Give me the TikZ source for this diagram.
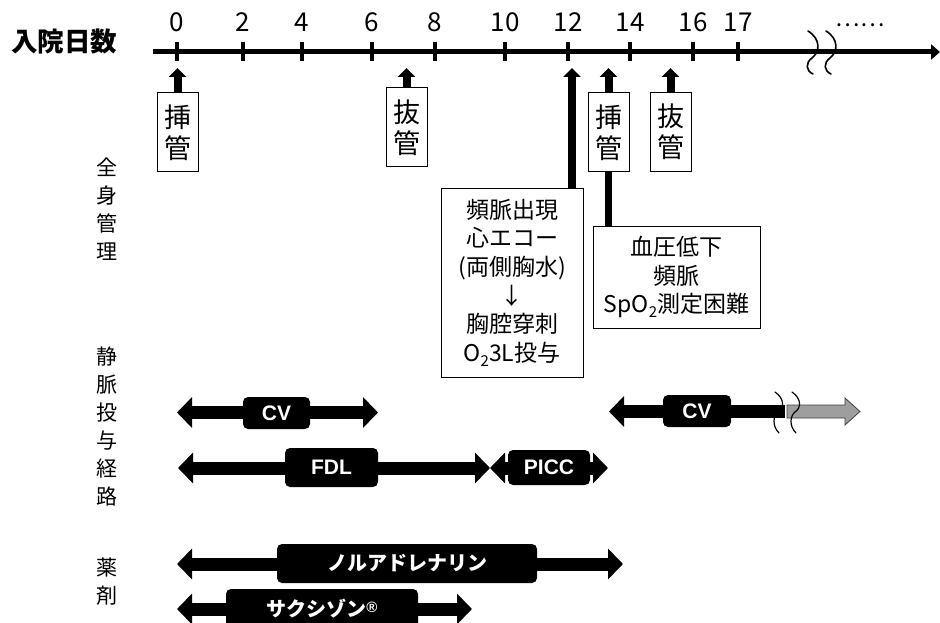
\documentclass[tikz,border=0pt]{standalone}
\usepackage{fontspec}
\setmainfont{Noto Sans CJK JP}
\newfontfamily\latb{Liberation Sans}
\usetikzlibrary{arrows.meta}
\tikzset{
  upar/.style={line width=8pt, -{Triangle[width=17pt,length=9pt]}},
  smallbox/.style={draw, line width=1pt, minimum width=41pt, minimum height=79pt, inner sep=0pt, align=center, font=\fontsize{27}{31}\selectfont},
  bigbox/.style={draw, line width=1pt, inner sep=0pt, align=center, font=\fontsize{23}{28.7}\selectfont},
  durbar/.style={line width=13pt, {Triangle[width=30pt,length=15pt]}-{Triangle[width=30pt,length=15pt]}},
  leftbar/.style={line width=13pt, {Triangle[width=30pt,length=15pt]}-},
  barlabel/.style={fill=black, rounded corners=5pt, text=white, inner sep=0pt},
  latlab/.style={barlabel, font=\latb\bfseries\fontsize{21}{21}\selectfont},
  jplab/.style={barlabel, font=\bfseries\fontsize{20}{20}\selectfont},
  ticklab/.style={anchor=base, font=\fontsize{26}{26}\selectfont},
  side/.style={align=center, font=\fontsize{21}{28}\selectfont},
  brk/.style={line width=1.6pt, line cap=round},
}
\begin{document}
\begin{tikzpicture}[x=1pt,y=-1pt]
\useasboundingbox (0,0) rectangle (940,623);

% title
\node[anchor=base west, inner sep=0pt, font=\bfseries\fontsize{26.5}{26.5}\selectfont] (title) at (11,52) {入院日数};

% axis
\coordinate (ax0) at (153,52);
\coordinate (ax1) at (940,52);
\draw[line width=5pt, -{Triangle[width=15pt,length=9pt]}] (ax0) -- (ax1);
\foreach \x/\l [count=\i] in {177/0, 243/2, 302/4, 372/6, 435/8, 505/10, 568/12, 630/14, 693/16, 738/17}{
  \coordinate (tk\i) at (\x,52);
  \draw[line width=4pt] (\x,42) -- (\x,61);
  \node[ticklab, inner sep=0pt] (lab\i) at (\x,32) {\l};
}
% break marks on axis
\foreach \x in {812,830}{
  \draw[brk] (\x-4,31) .. controls (\x+9,39) and (\x+8,52) .. (\x,58)
             .. controls (\x-7,63) and (\x-6,71) .. (\x+1,74);
}
\node[inner sep=0pt, font=\fontsize{23}{23}\selectfont] (dots) at (860,25) {……};

% insertion / extubation boxes
\node[smallbox] (ins1) at (177.5,132.5) {挿\\管};
\node[smallbox] (ext1) at (406.5,127.5) {抜\\管};
\node[smallbox] (ins2) at (608.5,132.5) {挿\\管};
\node[smallbox] (ext2) at (670.5,132) {抜\\管};
\coordinate (u1) at (177.5,68);
\coordinate (u2) at (406.5,68);
\coordinate (u3) at (608.5,68);
\coordinate (u4) at (670.5,68);
\coordinate (u5) at (572,68);
\draw[upar] (ins1.north) -- (u1);
\draw[upar] (ext1.north) -- (u2);
\draw[upar] (ins2.north) -- (u3);
\draw[upar] (ext2.north) -- (u4);

% event boxes
\node[bigbox, minimum width=142pt, minimum height=189pt] (ev1) at (512,282.5)
  {頻脈出現\\心エコー\\(両側胸水)\\↓\\胸腔穿刺\\O{\raisebox{-0.35ex}{\fontsize{15}{15}\selectfont 2}}3L投与};
\node[bigbox, minimum width=167pt, minimum height=102pt] (ev2) at (676.5,277)
  {血圧低下\\頻脈\\SpO{\raisebox{-0.35ex}{\fontsize{15}{15}\selectfont 2}}測定困難};
\draw[upar] (ev1.north -| u5) -- (u5);
\draw[line width=7pt] (ins2.south) -- (ins2.south |- ev2.north);

% side labels
\node[side] (s1) at (107,209.5) {全\\身\\管\\理};
\node[side] (s2) at (107,426) {静\\脈\\投\\与\\経\\路};
\node[side] (s3) at (107,582) {薬\\剤};

% CV 1
\coordinate (cv1a) at (177,412.5);
\coordinate (cv1b) at (378,412.5);
\draw[durbar] (cv1a) -- (cv1b);
\node[latlab, minimum width=67pt, minimum height=32pt] (cv1) at (276.5,413) {CV};

% FDL
\coordinate (fdla) at (178,468);
\coordinate (fdlb) at (490,468);
\draw[durbar] (fdla) -- (fdlb);
\node[latlab, minimum width=93pt, minimum height=39pt] (fdl) at (331.5,467.5) {FDL};

% PICC
\coordinate (picca) at (490,468);
\coordinate (piccb) at (608,468);
\draw[durbar] (picca) -- (piccb);
\node[latlab, minimum width=82pt, minimum height=35pt] (picc) at (549,467.5) {PICC};

% CV 2
\coordinate (cv2a) at (609,411.5);
\coordinate (cv2m) at (785,411.5);
\draw[leftbar] (cv2a) -- (cv2m);
\filldraw[fill=black!38, draw=black!75, line width=0.8pt]
  (787,405) -- (845,405) -- (845,398) -- (860,411.5) -- (845,425) -- (845,418) -- (787,418) -- cycle;
\node[latlab, minimum width=68pt, minimum height=32pt] (cv2) at (697,411) {CV};
\foreach \x in {778,795}{
  \draw[brk, line width=1.2pt] (\x-3,392) .. controls (\x+7,399) and (\x+6,408) .. (\x,412)
             .. controls (\x-5,416) and (\x-6,426) .. (\x+1,433);
}

% drugs
\coordinate (nora) at (177,564);
\coordinate (norb) at (623,564);
\draw[durbar] (nora) -- (norb);
\node[jplab, minimum width=260pt, minimum height=39pt] (nor) at (407,563.5) {ノルアドレナリン};

\coordinate (saka) at (177,609);
\coordinate (sakb) at (472,609);
\draw[durbar] (saka) -- (sakb);
\node[jplab, minimum width=192pt, minimum height=39pt] (sak) at (322,608.5) {サクシゾン{\latb\fontsize{15}{15}\selectfont\raisebox{4pt}{®}}};
\end{tikzpicture}
\end{document}
